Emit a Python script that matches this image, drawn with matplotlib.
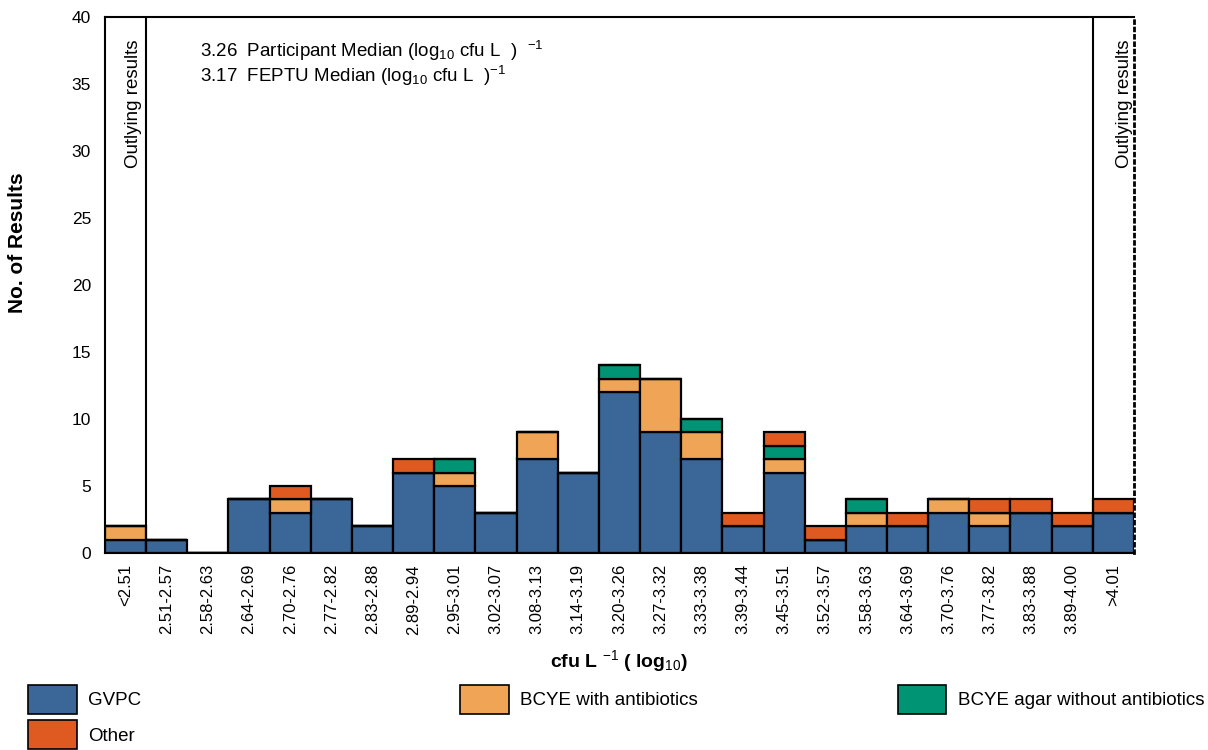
import numpy as np
import matplotlib.pyplot as plt
from matplotlib.patches import Patch

plt.rcParams['font.family'] = ['Liberation Sans', 'DejaVu Sans']
plt.rcParams['mathtext.fontset'] = 'custom'
plt.rcParams['mathtext.rm'] = 'Liberation Sans'
plt.rcParams['mathtext.it'] = 'Liberation Sans'
plt.rcParams['mathtext.bf'] = 'Liberation Sans:bold'

# bins (log10 cfu/L)
bins = ['<2.51', '2.51-2.57', '2.58-2.63', '2.64-2.69', '2.70-2.76', '2.77-2.82',
        '2.83-2.88', '2.89-2.94', '2.95-3.01', '3.02-3.07', '3.08-3.13', '3.14-3.19',
        '3.20-3.26', '3.27-3.32', '3.33-3.38', '3.39-3.44', '3.45-3.51', '3.52-3.57',
        '3.58-3.63', '3.64-3.69', '3.70-3.76', '3.77-3.82', '3.83-3.88', '3.89-4.00',
        '>4.01']

gvpc         = [1, 1, 0, 4, 3, 4, 2, 6, 5, 3, 7, 6, 12, 9, 7, 2, 6, 1, 2, 2, 3, 2, 3, 2, 3]
bcye_abx     = [1, 0, 0, 0, 1, 0, 0, 0, 1, 0, 2, 0, 1, 4, 2, 0, 1, 0, 1, 0, 1, 1, 0, 0, 0]
bcye_no_abx  = [0, 0, 0, 0, 0, 0, 0, 0, 1, 0, 0, 0, 1, 0, 1, 0, 1, 0, 1, 0, 0, 0, 0, 0, 0]
other        = [0, 0, 0, 0, 1, 0, 0, 1, 0, 0, 0, 0, 0, 0, 0, 1, 1, 1, 0, 1, 0, 1, 1, 1, 1]

series = [
    ('GVPC', gvpc, '#3a6698'),
    ('BCYE with antibiotics', bcye_abx, '#efa555'),
    ('BCYE agar without antibiotics', bcye_no_abx, '#019474'),
    ('Other', other, '#de5a20'),
]

fig = plt.figure(figsize=(12.08, 7.5), dpi=100)
ax = fig.add_axes([0.0869, 0.2627, 0.8518, 0.7147])

x = np.arange(len(bins))
bottom = np.zeros(len(bins))
for name, vals, col in series:
    vals = np.array(vals)
    ax.bar(x, vals, width=1.0, bottom=bottom, color=col, edgecolor='black', linewidth=1.6)
    bottom += vals

ax.set_xlim(-0.5, len(bins) - 0.5)
ax.set_ylim(0, 40)
ax.set_yticks(range(0, 41, 5))
ax.set_xticks(x)
ax.set_xticklabels(bins, rotation=90, fontsize=12)
ax.tick_params(axis='y', labelsize=12.5, length=0, pad=10)
ax.tick_params(axis='x', length=0, pad=8)

# outlier separators
ax.axvline(0.5, color='black', lw=1.5)
ax.axvline(len(bins) - 1.5, color='black', lw=1.5)
ax.text(0.2, 38.3, 'Outlying results', rotation=90, ha='center', va='top', fontsize=13.5)
ax.text(len(bins) - 0.72, 38.3, 'Outlying results', rotation=90, ha='center', va='top', fontsize=13.5)

for s in ['left', 'top', 'bottom']:
    ax.spines[s].set_linewidth(1.5)
ax.spines['right'].set_linestyle(':')
ax.spines['right'].set_linewidth(2)

ax.text(1.8, 37.5, r'3.26  Participant Median (log$_{10}$ cfu L  )  $^{-1}$', fontsize=13.5, va='center')
ax.text(1.8, 35.6, r'3.17  FEPTU Median (log$_{10}$ cfu L  )$^{-1}$', fontsize=13.5, va='center')

ax.set_ylabel('No. of Results', fontsize=15, fontweight='bold')
ax.yaxis.set_label_coords(-0.076, 0.578)
ax.set_xlabel(r'cfu L $^{-1}$ ( log$_{10}$)', fontsize=14, fontweight='bold', labelpad=10)

handles = {n: Patch(facecolor=c, edgecolor='black', lw=1.2, label=n) for n, v, c in series}
leg_kw = dict(loc='upper left', frameon=False, fontsize=13.5, handlelength=2.6, handleheight=2.0,
              handletextpad=0.6, labelspacing=0.35, borderaxespad=0, borderpad=0)
cols = [(0.023, ['GVPC', 'Other']),
        (0.381, ['BCYE with antibiotics']),
        (0.743, ['BCYE agar without antibiotics'])]
for xpos, names in cols:
    fig.legend(handles=[handles[n] for n in names], bbox_to_anchor=(xpos, 0.087), **leg_kw)

fig.savefig('out.png', dpi=100)
